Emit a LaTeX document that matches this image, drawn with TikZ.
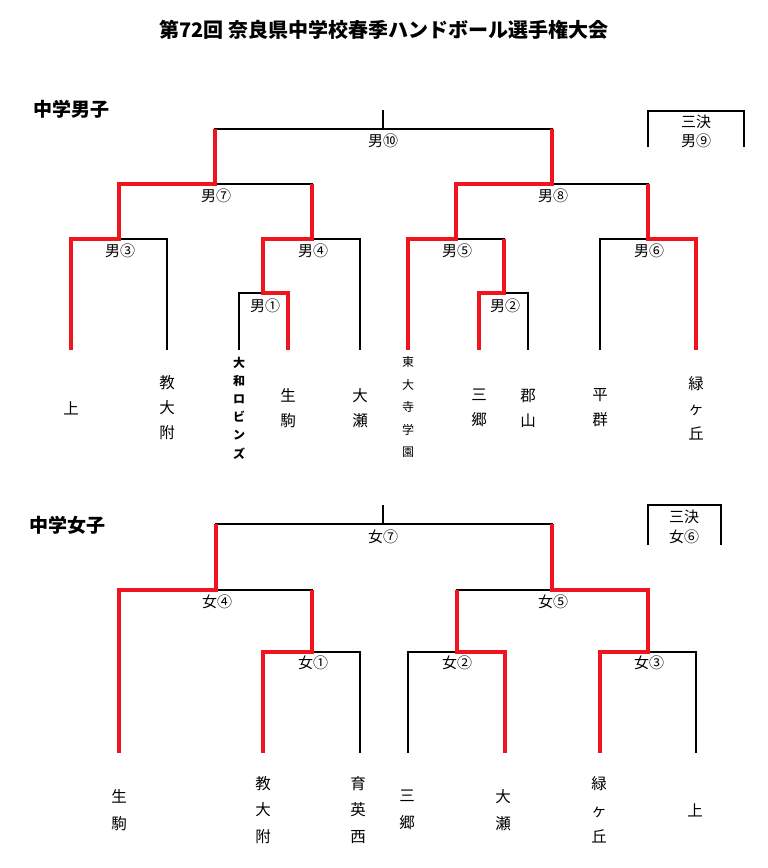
\documentclass[tikz,border=0pt]{standalone}
\usepackage{fontspec}
\setmainfont{Noto Sans CJK JP}
\definecolor{winred}{RGB}{240,20,30}

\tikzset{
  line/.style={black, line width=1.3pt},
  win/.style={winred, line width=4pt, line join=miter},
  match/.style={font=\fontsize{15}{15}\selectfont},
  team/.style={font=\fontsize{15.5}{25}\selectfont, align=center},
  gteam/.style={font=\fontsize{15.5}{26.5}\selectfont, align=center},
}

\begin{document}
\begin{tikzpicture}[x=1pt, y=-1pt]
    \useasboundingbox (0,0) rectangle (768,868);

    \node[font=\fontsize{20}{20}\selectfont\bfseries] (title) at (384,30) {第72回 奈良県中学校春季ハンドボール選手権大会};

    % Boys (top)
    \begin{scope}
        \node[font=\fontsize{19}{19}\selectfont\bfseries] (boys) at (72,109) {中学男子};

        \draw[line] (383,110) -- (383,129);
        \draw[line] (215,184) |- (552,129) -- (552,184);
        \draw[line] (119,239) |- (312,184) -- (312,239);
        \draw[line] (456,239) |- (648,184) -- (648,239);
        \draw[line] (71,350) |- (167,239) -- (167,350);
        \draw[line] (263,293) |- (360,239) -- (360,350);
        \draw[line] (239,350) |- (288,293) -- (288,350);
        \draw[line] (408,350) |- (504,239) -- (504,293);
        \draw[line] (479,350) |- (528,293) -- (528,350);
        \draw[line] (600,350) |- (696,239) -- (696,350);

        % winners
        \draw[win] (71,350) -- (71,239) -- (119,239) -- (119,184) -- (215,184) -- (215,129);
        \draw[win] (288,350) -- (288,293) -- (263,293) -- (263,239) -- (312,239) -- (312,184);
        \draw[win] (408,350) -- (408,239) -- (456,239) -- (456,184) -- (552,184) -- (552,129);
        \draw[win] (479,350) -- (479,293) -- (504,293) -- (504,239);
        \draw[win] (696,350) -- (696,239) -- (648,239) -- (648,184);

        \node[match] (b10) at (383,141) {男⑩};
        \node[match] (b7) at (216,196) {男⑦};
        \node[match] (b8) at (553,196) {男⑧};
        \node[match] (b3) at (120,251) {男③};
        \node[match] (b4) at (313,251) {男④};
        \node[match] (b5) at (457,251) {男⑤};
        \node[match] (b6) at (649,251) {男⑥};
        \node[match] (b1) at (265,306) {男①};
        \node[match] (b2) at (505,306) {男②};

        % third place
        \draw[line] (648,147) -- (648,111) -- (744,111) -- (744,147);
        \node[match] (b9a) at (696,122) {三決};
        \node[match] (b9) at (696,141) {男⑨};

        \node[team] (bt1) at (71,408) {上};
        \node[team] (bt2) at (167,408) {教\\大\\附};
        \node[font=\fontsize{12}{18.2}\selectfont\bfseries, align=center] (bt3) at (239,408) {大\\和\\ロ\\ビ\\ン\\ズ};
        \node[font=\fontsize{12}{22.5}\selectfont, align=center] (bt6) at (408,407) {東\\大\\寺\\学\\園};
        \node[team] (bt4) at (288,408) {生\\駒};
        \node[team] (bt5) at (360,408) {大\\瀬};
        \node[team] (bt7) at (479,408) {三\\郷};
        \node[team] (bt8) at (528,408) {郡\\山};
        \node[team] (bt9) at (600,408) {平\\群};
        \node[team] (bt10) at (696,408) {緑\\ヶ\\丘};
    \end{scope}

    % Girls (bottom)
    \begin{scope}
        \node[font=\fontsize{19}{19}\selectfont\bfseries] (girls) at (67,525) {中学女子};

        \draw[line] (383,505) -- (383,524);
        \draw[line] (216,590) |- (552,524) -- (552,590);
        \draw[line] (119,753) |- (312,590) -- (312,652);
        \draw[line] (263,753) |- (360,652) -- (360,753);
        \draw[line] (457,652) |- (648,590) -- (648,652);
        \draw[line] (408,753) |- (505,652) -- (505,753);
        \draw[line] (600,753) |- (696,652) -- (696,753);

        % winners
        \draw[win] (119,753) -- (119,590) -- (216,590) -- (216,524);
        \draw[win] (263,753) -- (263,652) -- (312,652) -- (312,590);
        \draw[win] (505,753) -- (505,652) -- (457,652) -- (457,590);
        \draw[win] (600,753) -- (600,652) -- (648,652) -- (648,590) -- (552,590) -- (552,524);

        \node[match] (g7) at (383,537) {女⑦};
        \node[match] (g4) at (217,602) {女④};
        \node[match] (g5) at (553,602) {女⑤};
        \node[match] (g1) at (313,663) {女①};
        \node[match] (g2) at (457,663) {女②};
        \node[match] (g3) at (649,663) {女③};

        % third place
        \draw[line] (648,545) -- (648,505) -- (721,505) -- (721,545);
        \node[match] (g6a) at (684,517) {三決};
        \node[match] (g6) at (684,537) {女⑥};

        \node[gteam] (gt1) at (119,810) {生\\駒};
        \node[gteam] (gt2) at (263,810) {教\\大\\附};
        \node[gteam] (gt3) at (358,810) {育\\英\\西};
        \node[gteam] (gt4) at (407,810) {三\\郷};
        \node[gteam] (gt5) at (503,810) {大\\瀬};
        \node[gteam] (gt6) at (599,810) {緑\\ヶ\\丘};
        \node[gteam] (gt7) at (695,810) {上};
    \end{scope}
\end{tikzpicture}
\end{document}
